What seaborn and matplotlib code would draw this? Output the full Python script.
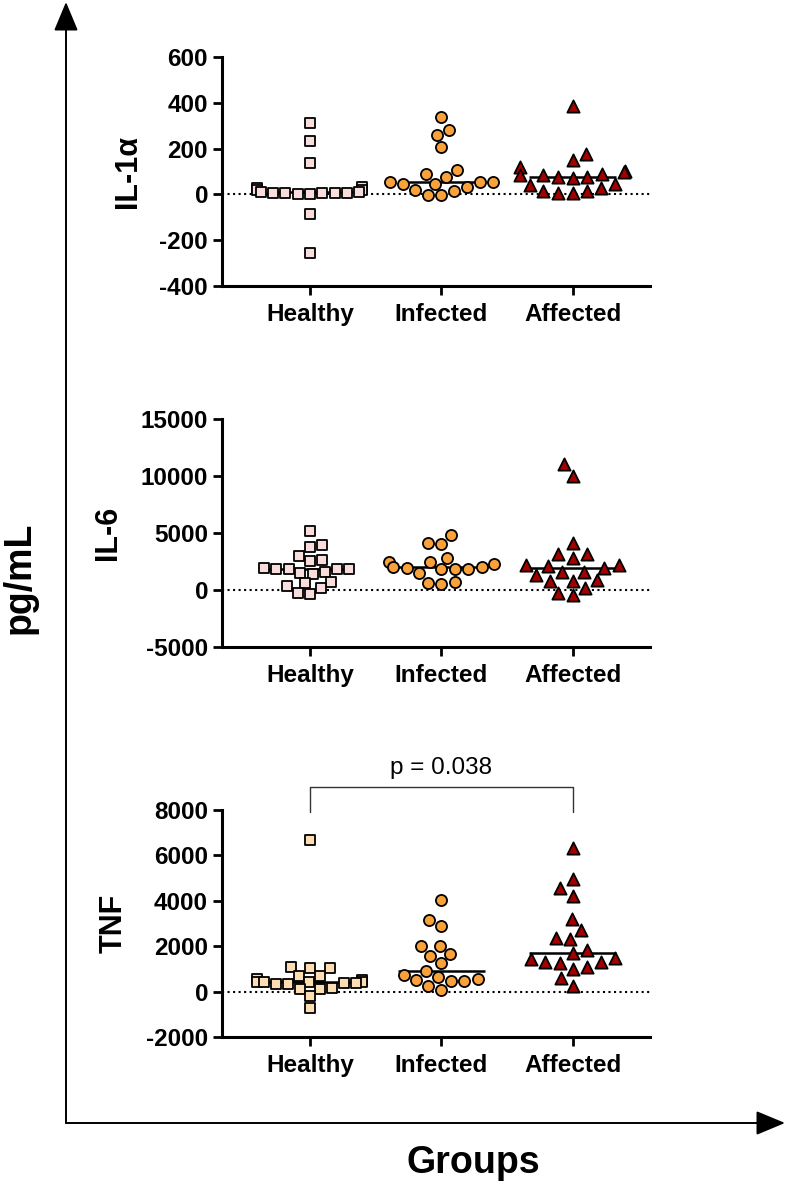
import numpy as np
import pandas as pd
import seaborn as sns
import matplotlib.pyplot as plt

groups = ['Healthy', 'Infected', 'Affected']

# IL-1alpha (pg/mL)
il1_healthy = [312, 234, 135, 34, 30, 19, 19, 12, 12, 7, 4, 4, 4, 4, 0, 0, -84, -255]
il1_infected = [337, 283, 260, 207, 108, 90, 78, 52, 52, 52, 46, 46, 31, 19, 16, -3, -3]
il1_affected = [385, 178, 149, 120, 104, 96, 90, 86, 86, 78, 78, 71, 46, 41, 27, 16, 16, 4, 4]

# IL-6 (pg/mL)
il6_healthy = [5170, 3940, 3770, 2980, 2630, 2540, 1930, 1870, 1870, 1870, 1870, 1610,
               1520, 1430, 700, 580, 350, 150, -230, -380]
il6_infected = [4820, 4090, 4000, 2830, 2450, 2450, 2250, 2010, 2010, 1960, 1870, 1870,
                1810, 1520, 700, 640, 550]
il6_affected = [11010, 9990, 4150, 3120, 3120, 2830, 2160, 2160, 2100, 1960, 1580, 1580,
                1310, 880, 790, 790, 150, -230, -440]

# TNF (pg/mL)
tnf_healthy = [6670, 1080, 1020, 1020, 690, 690, 570, 510, 440, 440, 420, 420, 390, 370,
               320, 320, 175, 130, 100, -190, -730]
tnf_infected = [4040, 3170, 2910, 2000, 2000, 1660, 1560, 1240, 910, 730, 660, 540, 510,
                470, 470, 250, 70]
tnf_affected = [6310, 4950, 4560, 4220, 3200, 2730, 2370, 2320, 1850, 1710, 1490, 1450,
                1300, 1300, 1270, 1080, 980, 610, 250]

panel_names = ['IL-1α', 'IL-6', 'TNF']
panel_data = [[il1_healthy, il1_infected, il1_affected],
              [il6_healthy, il6_infected, il6_affected],
              [tnf_healthy, tnf_infected, tnf_affected]]
panel_ylims = [(-400, 600), (-5000, 15000), (-2000, 8000)]
panel_ysteps = [200, 5000, 2000]
p_text = 'p = 0.038'

sns.set_style('ticks')
plt.rcParams['font.family'] = ['Liberation Sans', 'DejaVu Sans']
plt.rcParams['font.weight'] = 'bold'
plt.rcParams['axes.unicode_minus'] = False
for key in ['text.color', 'axes.labelcolor', 'xtick.color', 'ytick.color', 'axes.edgecolor']:
    plt.rcParams[key] = 'black'

markers = ['s', 'o', '^']
sizes = [7.2, 8, 8.8]
colors = [['#F9DCDC', '#F9A23B', '#A30000'],
          ['#F9DCDC', '#F9A23B', '#A30000'],
          ['#FCDDB4', '#F9A23B', '#A30000']]

fig = plt.figure(figsize=(7.87, 11.91), dpi=100)
W, H = 787, 1191
# axes boxes in pixels: (left, top, right, bottom)
boxes = [(222, 57, 650, 286), (222, 419, 650, 647), (222, 810, 650, 1037)]
label_x = [-0.185, -0.232, -0.218]

for k, (name, vals) in enumerate(zip(panel_names, panel_data)):
    l, t, r, b = boxes[k]
    ax = fig.add_axes([l / W, 1 - b / H, (r - l) / W, (b - t) / H])
    df = pd.DataFrame({'group': np.repeat(groups, [len(v) for v in vals]),
                       'value': np.concatenate(vals)})
    ax.axhline(0, ls=':', color='black', lw=1.5, zorder=0)
    for i, g in enumerate(groups):
        sns.swarmplot(data=df[df['group'] == g], x='group', y='value', order=groups,
                      marker=markers[i], color=colors[k][i], size=sizes[i],
                      linewidth=1.3, edgecolor='black', ax=ax, zorder=3)
    med = df.groupby('group')['value'].median().reindex(groups)
    ax.hlines(med.values, np.arange(3) - 0.33, np.arange(3) + 0.33,
              color='black', lw=1.8, zorder=2)
    lo, hi = panel_ylims[k]
    ax.set_ylim(lo, hi)
    ax.set_yticks(np.arange(lo, hi + 1, panel_ysteps[k]))
    ax.set_xlim(-0.67, 2.59)
    ax.set_xlabel('')
    ax.set_ylabel(name, fontsize=22, fontweight='bold')
    ax.yaxis.set_label_coords(label_x[k], 0.5)
    sns.despine(ax=ax)
    for side in ['left', 'bottom']:
        ax.spines[side].set_linewidth(2.2)
    ax.tick_params(axis='both', width=2, length=6.5, labelsize=17.5, colors='black')
    ax.tick_params(axis='y', pad=3.5)
    ax.tick_params(axis='x', pad=6)

    if k == 2:
        ax.plot([0, 0, 2, 2], [7900, 9000, 9000, 7900], color='#333333', lw=1,
                clip_on=False)
        ax.text(1, 9850, p_text, ha='center', va='center', fontsize=17.5,
                fontweight='normal')

# big axis arrows and titles
ov = fig.add_axes([0, 0, 1, 1])
ov.axis('off')
ov.set_xlim(0, W)
ov.set_ylim(H, 0)
arrow = dict(arrowstyle='-|>,head_length=18,head_width=7.5', mutation_scale=1,
             lw=1.4, color='black', shrinkA=0, shrinkB=0)
ov.annotate('', xy=(66, 2), xytext=(66, 1123), arrowprops=arrow)
ov.annotate('', xy=(785, 1123), xytext=(66, 1123), arrowprops=arrow)
ov.text(20, 578, 'pg/mL', rotation=90, ha='center', va='center', fontsize=27,
        fontweight='bold')
ov.text(473, 1163, 'Groups', ha='center', va='center', fontsize=27, fontweight='bold')

fig.savefig('out.png', dpi=100)
